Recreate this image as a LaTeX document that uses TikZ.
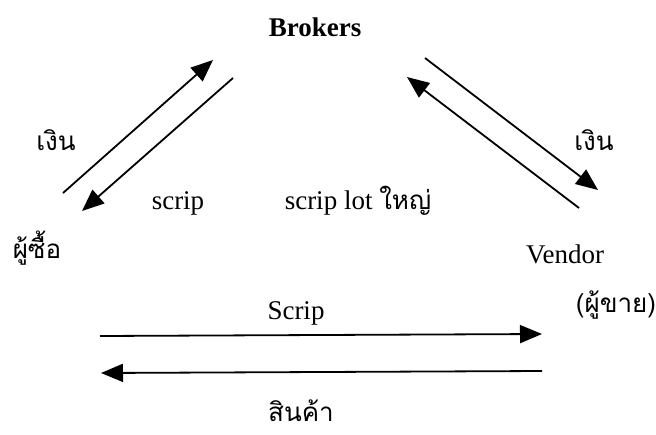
\documentclass[tikz,border=0pt]{standalone}
\usepackage{fontspec}
\setmainfont{Liberation Serif}
\newfontfamily\thaifont[Script=Thai]{Loma}
\usetikzlibrary{arrows.meta}
\begin{document}
\begin{tikzpicture}[x=1pt,y=-1pt,
  lbl/.style={inner sep=0pt,font=\fontsize{27}{31}\selectfont},
  thl/.style={inner sep=0pt,font=\fontsize{26}{30}\selectfont\thaifont},
  flow/.style={line width=1.8pt,-{Triangle[length=22pt,width=18pt]}}]
\useasboundingbox (0,0) rectangle (656,434);
% labels
\node[lbl,font=\fontsize{27}{31}\selectfont\bfseries] (brokers) at (315,27) {Brokers};
\node[thl] (ngL) at (56,140) {เงิน};
\node[thl] (ngR) at (594,140) {เงิน};
\node[lbl] (scrip) at (178,203) {scrip};
\node[lbl] (lot) at (358,201) {scrip lot {\thaifont\fontsize{26}{30}\selectfont ใหญ่}};
\node[thl] (buyer) at (37,248) {ผู้ซื้อ};
\node[lbl] (vendor) at (565,254) {Vendor};
\node[thl] (seller) at (616,305) {(ผู้ขาย)};
\node[lbl] (Scrip) at (296,313) {Scrip};
\node[thl] (goods) at (301,411) {สินค้า};
% connector ends
\coordinate (a1) at (63,193);  \coordinate (a2) at (213,60);
\coordinate (b1) at (233,78);  \coordinate (b2) at (82,211);
\coordinate (c1) at (425,58);  \coordinate (c2) at (598,190);
\coordinate (d1) at (579,208); \coordinate (d2) at (407,77);
\coordinate (e1) at (100,336); \coordinate (e2) at (542,334);
\coordinate (f1) at (542,371); \coordinate (f2) at (101,373);
% connectors
\draw[flow] (a1) -- (a2);
\draw[flow] (b1) -- (b2);
\draw[flow] (c1) -- (c2);
\draw[flow] (d1) -- (d2);
\draw[flow] (e1) -- (e2);
\draw[flow] (f1) -- (f2);
\end{tikzpicture}
\end{document}
